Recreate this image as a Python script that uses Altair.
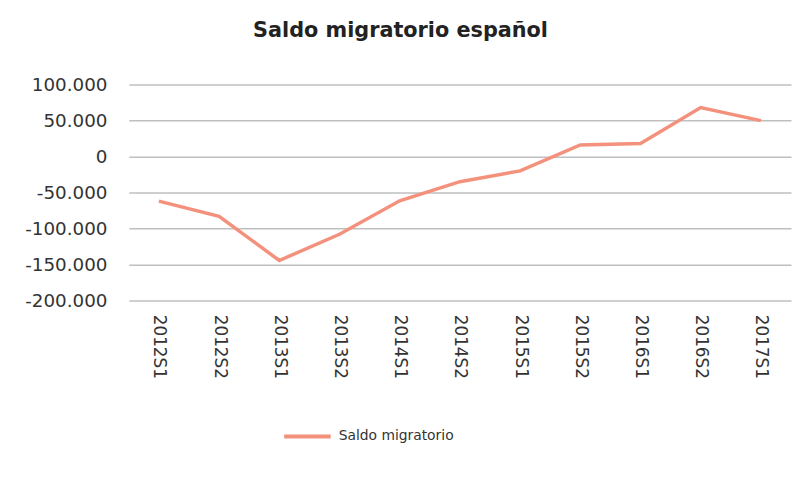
import altair as alt
import pandas as pd

periods = ["2012S1", "2012S2", "2013S1", "2013S2", "2014S1", "2014S2",
           "2015S1", "2015S2", "2016S1", "2016S2", "2017S1"]
saldo = [-62000, -83000, -144500, -108000, -61500, -35000,
         -20000, 16000, 18000, 68000, 50000]
series_name = "Saldo migratorio"
y_ticks = [-200000, -150000, -100000, -50000, 0, 50000, 100000]

df = pd.DataFrame({"periodo": periods, "saldo": saldo, "serie": [series_name] * len(periods)})

FONT = "DejaVu Sans"
LINE_COLOR = "#F4917C"

chart = alt.Chart(df).mark_line(strokeWidth=3.5, strokeJoin="miter").encode(
    x=alt.X("periodo:N", sort=None, title=None,
            scale=alt.Scale(type="point", padding=0.5),
            axis=alt.Axis(labelAngle=90, labelFont=FONT, labelFontSize=17,
                          labelColor="#333333", ticks=False, domain=False,
                          grid=False, labelPadding=14)),
    y=alt.Y("saldo:Q", title=None,
            scale=alt.Scale(domain=[-200000, 100000], nice=False, zero=False),
            axis=alt.Axis(values=y_ticks, labelFont=FONT, labelFontSize=18.5,
                          labelColor="#333333", ticks=False, domain=False,
                          gridColor="#BFBFBF", gridWidth=1.5, labelPadding=22,
                          labelExpr="replace(replace(format(datum.value, ','), ',', '.'), '\u2212', '-')")),
    color=alt.Color("serie:N", title=None,
                    scale=alt.Scale(domain=[series_name], range=[LINE_COLOR]),
                    legend=alt.Legend(orient="none", legendX=155, legendY=330,
                                      symbolType="stroke", symbolSize=2209,
                                      symbolStrokeWidth=4, labelFont=FONT,
                                      labelFontSize=14, labelColor="#333333",
                                      labelOffset=6, padding=0)),
).properties(
    width=669,
    height=218,
    title=alt.TitleParams("Saldo migratorio español", font="DejaVu Sans",
                          fontSize=21, fontWeight="bold", color="#222222",
                          anchor="middle", dx=-60, offset=35),
    autosize=alt.AutoSizeParams(type="none"),
    padding={"left": 122, "top": 75, "right": 1, "bottom": 175},
    background="white",
).configure_view(stroke=None)

chart.save("out.html", embed_options={"renderer": "svg", "actions": False})
